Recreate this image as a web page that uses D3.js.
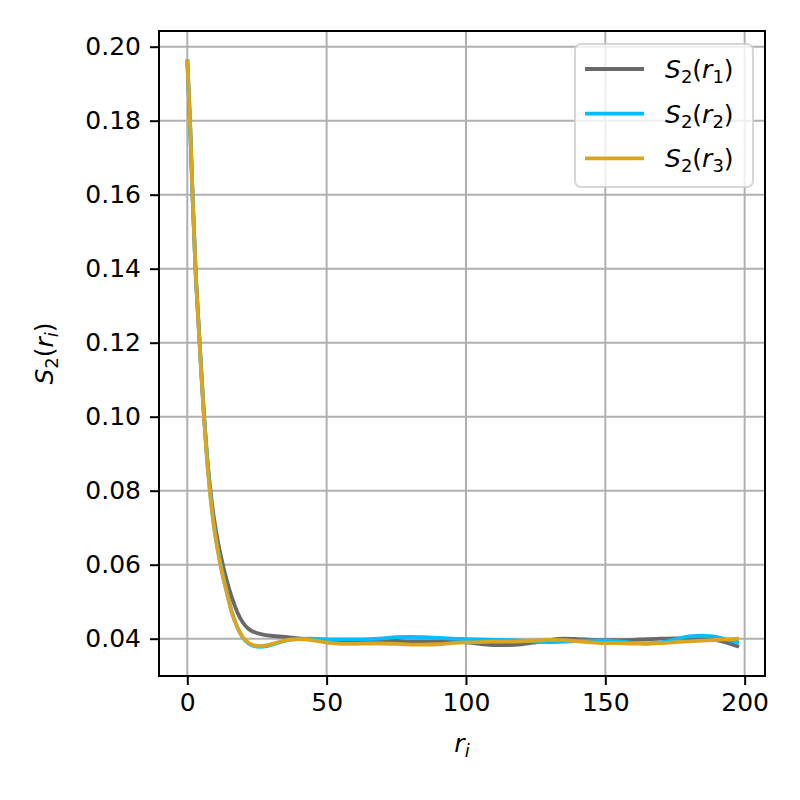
<!DOCTYPE html>
<html><head><meta charset="utf-8">
<script src="https://cdn.jsdelivr.net/npm/d3@7"></script>
<style>body{margin:0;background:#fff}svg{display:block}</style>
</head><body><svg id="c" width="800" height="800"></svg>
<script>
const xs = [0,1,2,3,4,5,6,7,8,9,10,11,12,14,16,18,20,22,24,26,28,30,33,36,40,44,48,52,56,60,65,70,75,80,85,90,95,100,105,110,115,120,125,130,135,140,145,150,155,160,165,170,175,180,185,190,195,198];
const s1 = [0.1965,0.179,0.1575,0.139,0.1255,0.1125,0.1003,0.0903,0.0823,0.0757,0.0705,0.0662,0.0625,0.0562,0.0511,0.0471,0.0443,0.0426,0.0418,0.0413,0.0410,0.0408,0.0406,0.0404,0.0401,0.0399,0.0397,0.0396,0.0396,0.0396,0.0396,0.0395,0.0394,0.0393,0.0393,0.0393,0.0392,0.0390,0.0386,0.0383,0.0383,0.0385,0.0390,0.0396,0.0400,0.0399,0.0397,0.0396,0.0396,0.0397,0.0399,0.0400,0.0401,0.0401,0.0400,0.0396,0.0386,0.0378];
const s2 = [0.1965,0.1795,0.158,0.1395,0.1258,0.1128,0.1003,0.0898,0.0812,0.0742,0.0685,0.0640,0.0600,0.0532,0.0472,0.0430,0.0402,0.0387,0.0380,0.0378,0.0379,0.0383,0.0390,0.0396,0.0399,0.0400,0.0399,0.0398,0.0398,0.0398,0.0399,0.0401,0.0404,0.0405,0.0404,0.0402,0.0400,0.0399,0.0398,0.0397,0.0396,0.0394,0.0392,0.0391,0.0392,0.0394,0.0395,0.0395,0.0393,0.0389,0.0387,0.0390,0.0398,0.0406,0.0408,0.0404,0.0395,0.0390];
const s3 = [0.1965,0.179,0.1575,0.139,0.125,0.112,0.0995,0.089,0.0805,0.0735,0.068,0.0635,0.0595,0.0530,0.0470,0.0430,0.0403,0.0389,0.0382,0.0380,0.0381,0.0385,0.0391,0.0397,0.0399,0.0397,0.0392,0.0388,0.0386,0.0386,0.0387,0.0387,0.0386,0.0384,0.0384,0.0385,0.0388,0.0390,0.0391,0.0392,0.0392,0.0393,0.0395,0.0397,0.0396,0.0393,0.0390,0.0388,0.0388,0.0387,0.0387,0.0388,0.0391,0.0393,0.0395,0.0397,0.0399,0.0400];
const seriesNames = ["1","2","3"];
const seriesColors = ["#696969","#00bfff","#daa520"];
const xTicks = [0,50,100,150,200];
const yTicks = [0.04,0.06,0.08,0.10,0.12,0.14,0.16,0.18,0.20];

const L=159,R=765,T=31,B=676;
const FONT="DejaVu Sans", FS=25;
const svg=d3.select("#c");
const x=d3.scaleLinear().domain([-10.15,207.3]).range([L,R]);
const y=d3.scaleLinear().domain([0.02992,0.20424]).range([B,T]);

// grid
const g=svg.append("g");
g.selectAll(".gx").data(xTicks).join("line").attr("x1",d=>x(d)).attr("x2",d=>x(d)).attr("y1",T).attr("y2",B).attr("stroke","#b0b0b0").attr("stroke-width",2);
g.selectAll(".gy").data(yTicks).join("line").attr("y1",d=>y(d)).attr("y2",d=>y(d)).attr("x1",L).attr("x2",R).attr("stroke","#b0b0b0").attr("stroke-width",2);

// lines
const all=[s1,s2,s3];
const line=d3.line().x((d,i)=>x(xs[i])).y(d=>y(d)).curve(d3.curveMonotoneX);
all.forEach((s,k)=>{
  svg.append("path").attr("d",line(s)).attr("fill","none").attr("stroke",seriesColors[k]).attr("stroke-width",3.8).attr("stroke-linejoin","round");
});

// axes
const xa=svg.append("g").attr("transform",`translate(0,${B})`).call(d3.axisBottom(x).tickValues(xTicks).tickSize(9).tickPadding(8).tickFormat(d3.format("d")));
const ya=svg.append("g").attr("transform",`translate(${L},0)`).call(d3.axisLeft(y).tickValues(yTicks).tickSize(9).tickPadding(9).tickFormat(d3.format(".2f")));
[xa,ya].forEach(a=>{a.select(".domain").remove();a.selectAll("line").attr("stroke","#000").attr("stroke-width",2);a.selectAll("text").attr("font-family",FONT).attr("font-size",FS).attr("fill","#000");});
svg.append("rect").attr("x",L).attr("y",T).attr("width",R-L).attr("height",B-T).attr("fill","none").attr("stroke","#000").attr("stroke-width",2);

function mathLabel(sel,parts){
  parts.forEach(p=>{
    const t=sel.append("tspan").text(p.t);
    if(p.i) t.attr("font-style","italic");
    if(p.sub){t.attr("font-size",FS*0.72).attr("dy",FS*0.2);}
    if(p.up){t.attr("dy",-FS*0.2);}
  });
}
// x label
const xl=svg.append("text").attr("x",(L+R)/2).attr("y",752).attr("text-anchor","middle").attr("font-family",FONT).attr("font-size",FS);
mathLabel(xl,[{t:"r",i:1},{t:"i",i:1,sub:1}]);
// y label
const yl=svg.append("text").attr("transform",`translate(53,${(T+B)/2}) rotate(-90)`).attr("text-anchor","middle").attr("font-family",FONT).attr("font-size",FS);
mathLabel(yl,[{t:"S",i:1},{t:"2",sub:1},{t:"(",up:1},{t:"r",i:1},{t:"i",i:1,sub:1},{t:")",up:1}]);

// legend
const lg=svg.append("g");
lg.append("rect").attr("x",575).attr("y",44).attr("width",178).attr("height",143).attr("rx",6).attr("fill","#fff").attr("fill-opacity",0.8).attr("stroke","#cccccc").attr("stroke-opacity",0.8).attr("stroke-width",2);
seriesNames.forEach((n,k)=>{
  const yy=69+k*44.7;
  lg.append("line").attr("x1",585).attr("x2",644).attr("y1",yy).attr("y2",yy).attr("stroke",seriesColors[k]).attr("stroke-width",3.8);
  const t=lg.append("text").attr("x",665).attr("y",yy+9).attr("font-family",FONT).attr("font-size",FS);
  mathLabel(t,[{t:"S",i:1},{t:"2",sub:1},{t:"(",up:1},{t:"r",i:1},{t:n,sub:1},{t:")",up:1}]);
});
</script></body></html>
